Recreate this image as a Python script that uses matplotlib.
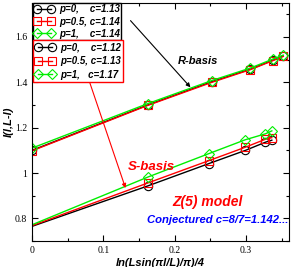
import numpy as np
import matplotlib.pyplot as plt
from matplotlib.lines import Line2D

# R-basis data
xr = [0.0, 0.162, 0.252, 0.306, 0.337, 0.352]
r_p0 = [1.100, 1.300, 1.403, 1.458, 1.497, 1.516]
r_p05 = [1.098, 1.298, 1.400, 1.456, 1.495, 1.514]
r_p1 = [1.110, 1.306, 1.408, 1.463, 1.502, 1.520]

# S-basis data (first point is the line start at x=0, no marker)
xs = [0.0, 0.162, 0.248, 0.299, 0.327, 0.336]
s_p0 = [0.765, 0.943, 1.042, 1.100, 1.136, 1.145]
s_p05 = [0.768, 0.956, 1.055, 1.114, 1.149, 1.156]
s_p1 = [0.772, 0.982, 1.086, 1.147, 1.173, 1.186]

r_labels = ['p=0,    c=1.13', 'p=0.5, c=1.14', 'p=1,    c=1.14']
s_labels = ['p=0,    c=1.12', 'p=0.5, c=1.13', 'p=1,   c=1.17']

colors = ['black', 'red', '#00ee00']
markers = ['o', 's', 'D']
msizes = [6, 6, 5]

plt.rcParams['font.family'] = 'Liberation Serif'

fig = plt.figure(figsize=(2.91, 2.67), dpi=100)
ax = fig.add_axes([0.110, 0.097, 0.883, 0.892])

for ys, c, m, ms in zip([r_p0, r_p05, r_p1], colors, markers, msizes):
    ax.plot(xr, ys, color=c, lw=1.0, marker=m, ms=ms, mfc='none', mec=c, mew=0.8)
for ys, c, m, ms in zip([s_p0, s_p05, s_p1], colors, markers, msizes):
    ax.plot(xs, ys, color=c, lw=1.0, marker=m, ms=ms, mfc='none', mec=c, mew=0.8,
            markevery=list(range(1, len(xs))))

ax.set_xlim(0, 0.36)
ax.set_ylim(0.7, 1.75)
ax.set_xticks([0, 0.1, 0.2, 0.3])
ax.set_xticklabels(['0', '0.1', '0.2', '0.3'])
ax.set_xticks(np.arange(0.05, 0.36, 0.1), minor=True)
ax.set_yticks([0.8, 1.0, 1.2, 1.4, 1.6])
ax.set_yticklabels(['0.8', '1', '1.2', '1.4', '1.6'])
ax.set_yticks(np.arange(0.7, 1.75, 0.1), minor=True)
ax.tick_params(which='both', direction='in', top=True, right=True, labelsize=7, width=0.8)
ax.tick_params(which='major', length=4)
ax.tick_params(which='minor', length=2)
for s in ax.spines.values():
    s.set_linewidth(0.8)

lab = dict(family='Liberation Sans', weight='bold', style='italic', fontsize=8)
ax.set_xlabel('ln(Lsin(\u03c0l/L)/\u03c0)/4', labelpad=2, **lab)
ax.set_ylabel('I(l,L-l)', labelpad=1, **lab)

def make_handles(labels):
    return [Line2D([0], [0], color=c, lw=1.0, marker=m, ms=ms, mfc='none', mec=c, mew=0.8)
            for c, m, ms in zip(colors, markers, msizes)]

prop = {'family': 'Liberation Sans', 'weight': 'bold', 'style': 'italic', 'size': 7}
leg1 = ax.legend(make_handles(r_labels), r_labels, loc='upper left', bbox_to_anchor=(0.004, 1.0),
                 numpoints=2, prop=prop, handlelength=2.0, handletextpad=0.5, labelspacing=0.22,
                 borderpad=0.15, borderaxespad=0.0, fancybox=False, framealpha=1)
leg1.get_frame().set_edgecolor('black')
leg1.get_frame().set_linewidth(1.0)
ax.add_artist(leg1)
leg2 = ax.legend(make_handles(s_labels), s_labels, loc='upper left', bbox_to_anchor=(0.004, 0.843),
                 numpoints=2, prop=prop, handlelength=2.0, handletextpad=0.5, labelspacing=0.35,
                 borderpad=0.25, borderaxespad=0.0, fancybox=False, framealpha=1)
leg2.get_frame().set_edgecolor('red')
leg2.get_frame().set_linewidth(1.0)

# annotations
ax.annotate('', xy=(0.222, 1.378), xytext=(0.138, 1.672),
            arrowprops=dict(arrowstyle='-|>', color='black', lw=0.8, mutation_scale=6,
                            shrinkA=0, shrinkB=0))
ax.annotate('', xy=(0.131, 0.934), xytext=(0.081, 1.398),
            arrowprops=dict(arrowstyle='-|>', color='red', lw=0.8, mutation_scale=6,
                            shrinkA=0, shrinkB=0))
ax.text(0.204, 1.48, 'R-basis', color='black', family='Liberation Sans', weight='bold',
        style='italic', fontsize=8)
ax.text(0.134, 1.013, 'S-basis', color='red', family='Liberation Sans', weight='bold',
        style='italic', fontsize=9.5)
ax.text(0.197, 0.855, 'Z(5) model', color='red', family='Liberation Sans', weight='bold',
        style='italic', fontsize=10)
ax.text(0.161, 0.778, 'Conjectured c=8/7=1.142...', color='blue', family='Liberation Sans',
        weight='bold', style='italic', fontsize=8.1)

fig.savefig('out.png', dpi=100)
